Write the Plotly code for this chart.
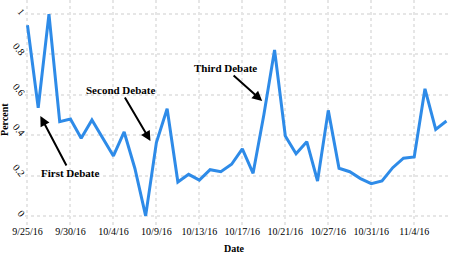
import plotly.graph_objects as go

dates = ["9/25/16", "9/26/16", "9/27/16", "9/28/16", "9/30/16",
         "10/1/16", "10/2/16", "10/3/16", "10/4/16",
         "10/5/16", "10/6/16", "10/7/16", "10/9/16",
         "10/10/16", "10/11/16", "10/12/16", "10/13/16",
         "10/14/16", "10/15/16", "10/16/16", "10/17/16",
         "10/18/16", "10/19/16", "10/20/16", "10/21/16",
         "10/22/16", "10/23/16", "10/24/16", "10/27/16",
         "10/28/16", "10/29/16", "10/30/16", "10/31/16",
         "11/1/16", "11/2/16", "11/3/16", "11/4/16",
         "11/5/16", "11/6/16", "11/7/16"]
percent = [0.945, 0.536, 1.0, 0.467, 0.48, 0.385, 0.475, 0.386, 0.297, 0.416,
           0.235, 0.0, 0.363, 0.531, 0.168, 0.206, 0.177, 0.229, 0.219, 0.256,
           0.332, 0.211, 0.50, 0.822, 0.396, 0.308, 0.368, 0.173, 0.523, 0.236,
           0.219, 0.185, 0.16, 0.173, 0.239, 0.286, 0.292, 0.63, 0.429, 0.47]
tick_labels = ["9/25/16", "9/30/16", "10/4/16", "10/9/16", "10/13/16",
               "10/17/16", "10/21/16", "10/27/16", "10/31/16", "11/4/16"]
y_ticks = [0, 0.2, 0.4, 0.6, 0.8, 1]
y_tick_text = ["0", "0.2", "0.4", "0.6", "0.8", "1"]

serif = "Liberation Serif"

fig = go.Figure()
fig.add_trace(go.Scatter(x=dates, y=percent, mode="lines",
                         line=dict(color="#2E8BE8", width=3)))

ann_font = dict(family=serif, size=11, color="black")
fig.add_annotation(x=1.2, y=0.495, ax=30, ay=57, text="<b>First Debate</b>",
                   showarrow=True, arrowhead=2, arrowsize=1, arrowwidth=2,
                   arrowcolor="black", font=ann_font)
fig.add_annotation(x=11.45, y=0.371, ax=-30, ay=-51, text="<b>Second Debate</b>",
                   showarrow=True, arrowhead=2, arrowsize=1, arrowwidth=2,
                   arrowcolor="black", font=ann_font)
fig.add_annotation(x=21.85, y=0.569, ax=-37, ay=-33, text="<b>Third Debate</b>",
                   showarrow=True, arrowhead=2, arrowsize=1, arrowwidth=2,
                   arrowcolor="black", font=ann_font)

title_font = dict(family=serif, size=10, color="black")
fig.add_annotation(xref="paper", yref="paper", x=0.494, y=0, yshift=-20,
                   xanchor="center", yanchor="middle", showarrow=False,
                   text="<b>Date</b>", font=title_font)
fig.add_annotation(xref="paper", yref="paper", x=0, y=0.474, xshift=-20,
                   xanchor="center", yanchor="middle", showarrow=False,
                   textangle=-90, text="<b>Percent</b>", font=title_font)

fig.update_layout(
    width=450, height=253,
    margin=dict(l=25, r=0, t=0, b=25),
    paper_bgcolor="white", plot_bgcolor="white",
    showlegend=False,
    font=dict(family=serif, size=10, color="black"),
    xaxis=dict(type="category", range=[-0.23, 39.33], automargin=False,
               tickmode="array", tickvals=tick_labels, ticktext=tick_labels,
               ticklabelstandoff=-4,
               showgrid=True, gridcolor="#e6e6e6", griddash="dot", gridwidth=1.5,
               zeroline=False, showline=False, ticks="",
               tickfont=dict(family=serif, size=10)),
    yaxis=dict(range=[-0.06, 1.07], automargin=False,
               tickmode="array", tickvals=y_ticks, ticktext=y_tick_text,
               tickangle=50,
               showgrid=True, gridcolor="#e6e6e6", griddash="dot", gridwidth=1.5,
               zeroline=False, showline=False, ticks="",
               tickfont=dict(family=serif, size=10)),
)

fig.write_html("out.html", post_script="document.body.style.margin='0px';",
               config={"displayModeBar": False})
